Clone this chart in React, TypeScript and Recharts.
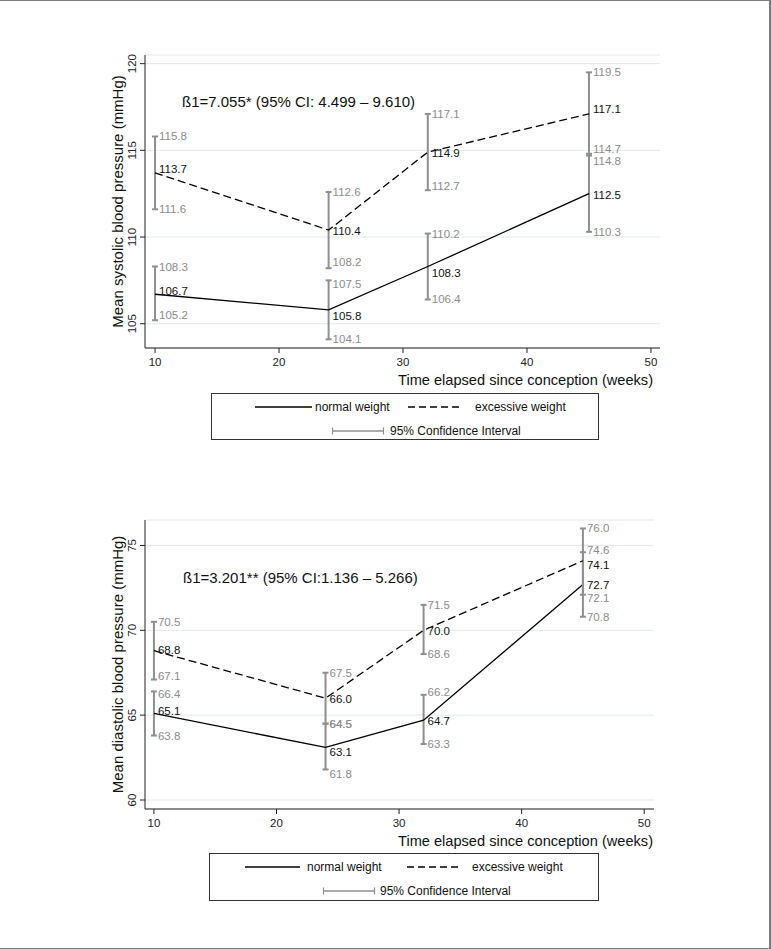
import React from 'react';
import {
  ComposedChart,
  Line,
  XAxis,
  YAxis,
  CartesianGrid,
  ErrorBar,
  LabelList,
} from 'recharts';

// ---------- data ----------
const weeks = [10, 24, 32, 45];
const xTicks = [10, 20, 30, 40, 50];

// Systolic
const sysNormal = [106.7, 105.8, 108.3, 112.5];
const sysNormalLo = [105.2, 104.1, 106.4, 110.3];
const sysNormalHi = [108.3, 107.5, 110.2, 114.7];
const sysExcess = [113.7, 110.4, 114.9, 117.1];
const sysExcessLo = [111.6, 108.2, 112.7, 114.8];
const sysExcessHi = [115.8, 112.6, 117.1, 119.5];
const sysTicks = [105, 110, 115, 120];

// Diastolic
const diaNormal = [65.1, 63.1, 64.7, 72.7];
const diaNormalLo = [63.8, 61.8, 63.3, 70.8];
const diaNormalHi = [66.4, 64.5, 66.2, 74.6];
const diaExcess = [68.8, 66.0, 70.0, 74.1];
const diaExcessLo = [67.1, 64.5, 68.6, 72.1];
const diaExcessHi = [70.5, 67.5, 71.5, 76.0];
const diaTicks = [60, 65, 70, 75];

const FONT = '"Liberation Sans", Arial, Helvetica, sans-serif';
const GRAY = '#8c8c8c';
const CI_GRAY = '#8f8f8f';

function buildRows(
  n: number[], nLo: number[], nHi: number[],
  e: number[], eLo: number[], eHi: number[]
) {
  return weeks.map((w, i) => ({
    x: w,
    n: n[i],
    nLo: nLo[i],
    nHi: nHi[i],
    e: e[i],
    eLo: eLo[i],
    eHi: eHi[i],
    nErr: [+(n[i] - nLo[i]).toFixed(2), +(nHi[i] - n[i]).toFixed(2)],
    eErr: [+(e[i] - eLo[i]).toFixed(2), +(eHi[i] - e[i]).toFixed(2)],
  }));
}

const sysRows = buildRows(sysNormal, sysNormalLo, sysNormalHi, sysExcess, sysExcessLo, sysExcessHi);
const diaRows = buildRows(diaNormal, diaNormalLo, diaNormalHi, diaExcess, diaExcessLo, diaExcessHi);

// label vertical nudges (px) for readability, as in the original figure
const sysNudge: Record<string, number> = {
  'n-0': -4, 'n-1': 5, 'n-2': 5, 'e-0': -5, 'e-3': -6,
  'nLo-0': -5, 'eLo-1': -6, 'nHi-1': 4, 'eLo-2': -4, 'nHi-3': -7, 'eLo-3': 7,
};
const diaNudge: Record<string, number> = {
  'n-0': -3, 'e-0': -2, 'n-1': 4,
  'eLo-0': -4, 'nHi-0': 3, 'nLo-1': 5, 'nHi-2': -3,
  'nHi-3': -2, 'e-3': 3, 'n-3': 0, 'eLo-3': 3,
};

const makeLabel = (key: string, color: string, nudge: Record<string, number>, base: number) =>
  (props: any) => {
    const { x, y, value, index } = props;
    if (x == null || y == null) return null;
    const dy = (nudge[`${key}-${index}`] ?? 0) + base;
    return (
      <text
        x={x + 4}
        y={y + dy + 4}
        fontSize={11.5}
        fontFamily={FONT}
        fill={color}
      >
        {Number(value).toFixed(1)}
      </text>
    );
  };

const YTick = (props: any) => {
  const { x, y, payload } = props;
  const bx = x - 1;
  return (
    <text
      x={bx}
      y={y}
      transform={`rotate(-90 ${bx} ${y})`}
      textAnchor="middle"
      fontSize={11.5}
      fontFamily={FONT}
      fill="#222"
    >
      {payload.value}
    </text>
  );
};

type PanelProps = {
  rows: any[];
  top: number;
  height: number;
  margin: { top: number; right: number; bottom: number; left: number };
  xDomain: [number, number];
  yDomain: [number, number];
  yTicks: number[];
  yLabel: string;
  nudge: Record<string, number>;
  annotation: string;
  annX: number;
  annY: number;
};

const Panel = (p: PanelProps) => {
  const plotTop = p.margin.top;
  const plotBottom = p.height - p.margin.bottom - 40;
  const midY = (plotTop + plotBottom) / 2;
  return (
    <div style={{ position: 'absolute', left: 0, top: p.top, width: 771, height: p.height }}>
      <ComposedChart width={771} height={p.height} data={p.rows} margin={p.margin}>
        <CartesianGrid vertical={false} stroke="#e3eaea" strokeWidth={1} />
        <XAxis
          dataKey="x"
          type="number"
          domain={p.xDomain}
          ticks={xTicks}
          allowDataOverflow
          height={40}
          tickSize={5}
          tickMargin={5}
          stroke="#222"
          tick={{ fontSize: 11.5, fontFamily: FONT, fill: '#222' }}
        />
        <YAxis
          type="number"
          domain={p.yDomain}
          ticks={p.yTicks}
          allowDataOverflow
          width={145}
          tickSize={5}
          tickMargin={3}
          stroke="#222"
          tick={<YTick />}
        />
        <Line
          dataKey="n"
          stroke="#000"
          strokeWidth={1.3}
          dot={false}
          isAnimationActive={false}
        >
          <ErrorBar dataKey="nErr" direction="y" width={3} stroke={CI_GRAY} strokeWidth={2} />
          <LabelList dataKey="n" content={makeLabel('n', '#111', p.nudge, 1)} />
        </Line>
        <Line
          dataKey="e"
          stroke="#000"
          strokeWidth={1.3}
          strokeDasharray="8 4"
          dot={false}
          isAnimationActive={false}
        >
          <ErrorBar dataKey="eErr" direction="y" width={3} stroke={CI_GRAY} strokeWidth={2} />
          <LabelList dataKey="e" content={makeLabel('e', '#111', p.nudge, 1)} />
        </Line>
        <Line dataKey="nLo" stroke="none" dot={false} activeDot={false} isAnimationActive={false}>
          <LabelList dataKey="nLo" content={makeLabel('nLo', GRAY, p.nudge, 0)} />
        </Line>
        <Line dataKey="nHi" stroke="none" dot={false} activeDot={false} isAnimationActive={false}>
          <LabelList dataKey="nHi" content={makeLabel('nHi', GRAY, p.nudge, 0)} />
        </Line>
        <Line dataKey="eLo" stroke="none" dot={false} activeDot={false} isAnimationActive={false}>
          <LabelList dataKey="eLo" content={makeLabel('eLo', GRAY, p.nudge, 0)} />
        </Line>
        <Line dataKey="eHi" stroke="none" dot={false} activeDot={false} isAnimationActive={false}>
          <LabelList dataKey="eHi" content={makeLabel('eHi', GRAY, p.nudge, 0)} />
        </Line>
      </ComposedChart>
      <svg
        width={771}
        height={p.height}
        style={{ position: 'absolute', left: 0, top: 0, pointerEvents: 'none' }}
      >
        <text
          x={122.5}
          y={midY}
          transform={`rotate(-90 122.5 ${midY})`}
          textAnchor="middle"
          fontSize={15}
          fontFamily={FONT}
          fill="#111"
        >
          {p.yLabel}
        </text>
        <text
          x={653}
          y={plotBottom + 37}
          textAnchor="end"
          fontSize={14.6}
          fontFamily={FONT}
          fill="#111"
        >
          Time elapsed since conception (weeks)
        </text>
        <text x={p.annX} y={p.annY} fontSize={15} fontFamily={FONT} fill="#111">
          {p.annotation}
        </text>
      </svg>
    </div>
  );
};

type LegendPos = {
  solid: [number, number];
  solidText: number;
  dash: [number, number];
  dashText: number;
  ci: [number, number];
  ciText: number;
};

const LegendBox = (props: { left: number; top: number; width: number; height: number; pos: LegendPos }) => {
  const { left, top, width, height, pos } = props;
  return (
    <div
      style={{
        position: 'absolute',
        left,
        top,
        width,
        height,
        border: '1px solid #333',
        boxSizing: 'border-box',
        background: '#fff',
      }}
    >
      <svg width={width} height={height} style={{ position: 'absolute', left: -1, top: -1 }}>
        <line x1={pos.solid[0]} y1={14} x2={pos.solid[1]} y2={14} stroke="#000" strokeWidth={1.3} />
        <text x={pos.solidText} y={18} fontSize={12} fontFamily={FONT} fill="#111">normal weight</text>
        <line x1={pos.dash[0]} y1={14} x2={pos.dash[1]} y2={14} stroke="#000" strokeWidth={1.3} strokeDasharray="7 4" />
        <text x={pos.dashText} y={18} fontSize={12} fontFamily={FONT} fill="#111">excessive weight</text>
        <line x1={pos.ci[0]} y1={38} x2={pos.ci[1]} y2={38} stroke={CI_GRAY} strokeWidth={1.5} />
        <line x1={pos.ci[0] + 0.5} y1={34.5} x2={pos.ci[0] + 0.5} y2={41.5} stroke={CI_GRAY} strokeWidth={1.2} />
        <line x1={pos.ci[1] - 0.5} y1={34.5} x2={pos.ci[1] - 0.5} y2={41.5} stroke={CI_GRAY} strokeWidth={1.2} />
        <text x={pos.ciText} y={42} fontSize={12} fontFamily={FONT} fill="#111">95% Confidence Interval</text>
      </svg>
    </div>
  );
};

const topLegendPos: LegendPos = {
  solid: [44, 101], solidText: 104, dash: [197, 252], dashText: 264, ci: [121, 173], ciText: 179,
};
const bottomLegendPos: LegendPos = {
  solid: [36, 91], solidText: 98, dash: [198, 253], dashText: 263, ci: [114, 166], ciText: 171,
};

export default function App() {
  return (
    <div
      style={{
        position: 'absolute',
        left: 0,
        top: 0,
        width: 771,
        height: 949,
        background: '#fff',
        fontFamily: FONT,
        overflow: 'hidden',
      }}
    >
      <div
        style={{
          position: 'absolute',
          left: 0,
          top: 0,
          width: 769,
          height: 947,
          borderTop: '1px solid #7a7a7a',
          borderRight: '2px solid #7a7a7a',
          borderBottom: '2px solid #7a7a7a',
        }}
      />
      <Panel
        rows={sysRows}
        top={0}
        height={400}
        margin={{ top: 55, right: 111, bottom: 12, left: 0 }}
        xDomain={[9.19, 50.73]}
        yDomain={[103.6, 120.5]}
        yTicks={sysTicks}
        yLabel="Mean systolic blood pressure (mmHg)"
        nudge={sysNudge}
        annotation="ß1=7.055* (95% CI: 4.499 – 9.610)"
        annX={182}
        annY={107}
      />
      <LegendBox left={211} top={393} width={388} height={47} pos={topLegendPos} />
      <Panel
        rows={diaRows}
        top={460}
        height={400}
        margin={{ top: 60, right: 117, bottom: 11, left: 0 }}
        xDomain={[9.27, 50.8]}
        yDomain={[59.47, 76.5]}
        yTicks={diaTicks}
        yLabel="Mean diastolic blood pressure (mmHg)"
        nudge={diaNudge}
        annotation="ß1=3.201** (95% CI:1.136 – 5.266)"
        annX={183}
        annY={123}
      />
      <LegendBox left={209} top={853} width={390} height={48} pos={bottomLegendPos} />
    </div>
  );
}
